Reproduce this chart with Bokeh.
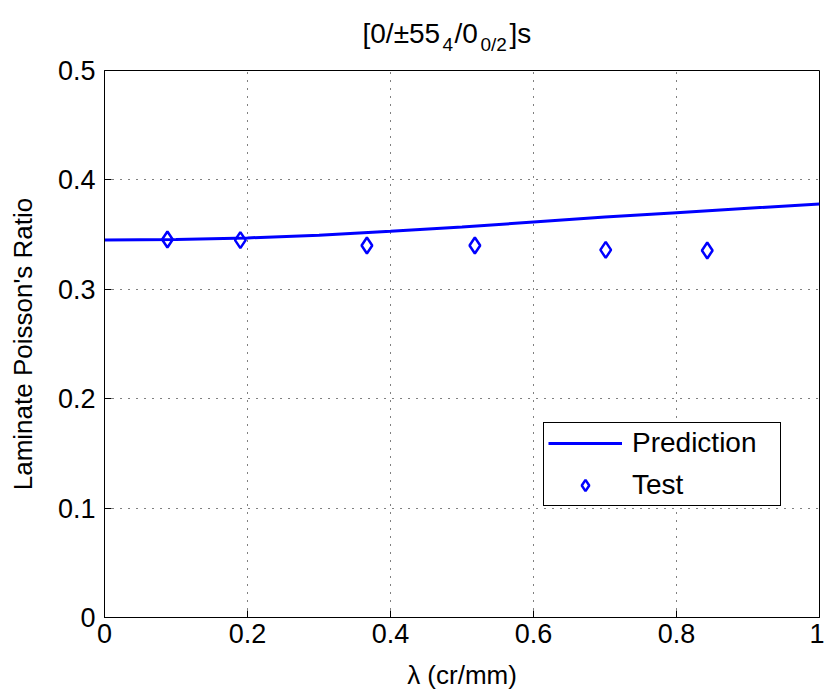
from bokeh.plotting import figure
from bokeh.layouts import column
from bokeh.models import Range1d, FixedTicker, CustomJSTickFormatter
from bokeh.core.properties import value
from bokeh.embed import file_html
from bokeh.resources import INLINE

# ---- data ----
pred_x = [0.0, 0.1, 0.2, 0.3, 0.4, 0.5, 0.6, 0.7, 0.8, 0.9, 1.0]
pred_y = [0.3450, 0.3455, 0.3470, 0.3495, 0.3530, 0.3570, 0.3615, 0.3660, 0.3700, 0.3740, 0.3780]
test_x = [0.088, 0.190, 0.367, 0.518, 0.701, 0.843]
test_y = [0.3455, 0.3450, 0.3400, 0.3400, 0.3360, 0.3355]
x_ticks = [0, 0.2, 0.4, 0.6, 0.8, 1]
y_ticks = [0, 0.1, 0.2, 0.3, 0.4, 0.5]
x_label = "λ (cr/mm)"
y_label = "Laminate Poisson's Ratio"
legend_labels = ["Prediction", "Test"]
# title "[0/±55_4/0_{0/2}]s" split into normal text and subscript pieces
title_main = ["[0/±55", "/0", "]s"]
title_sub = ["4", "0/2"]

FONT = "Liberation Sans"
BLUE = "#0000ff"
W = 824
TITLE_H = 55
BL, BR = 104, 5          # frame borders (the column aligns both frames)

# ---------------- title strip (page-pixel coordinate space) ----------------
t = figure(width=W, height=TITLE_H, output_backend="svg", toolbar_location=None,
           x_range=Range1d(BL, W - BR), y_range=Range1d(0, TITLE_H),
           x_axis_location=None, y_axis_location=None, title=None,
           min_border_left=BL, min_border_right=BR, min_border_top=0, min_border_bottom=0)
t.grid.visible = False
t.outline_line_color = None
t.background_fill_color = "white"
t.border_fill_color = "white"
t.text(x=[362, 454, 509], y=[22, 22, 22], text=title_main,
       text_font=value(FONT), text_font_size=value("28px"), text_color="black",
       text_baseline=value("alphabetic"), text_align=value("left"))
t.text(x=[442, 480], y=[11, 11], text=title_sub,
       text_font=value(FONT), text_font_size=value("19px"), text_color="black",
       text_baseline=value("alphabetic"), text_align=value("left"))

# ---------------- main plot ----------------
p = figure(width=W, height=698 - TITLE_H, output_backend="svg", toolbar_location=None,
           x_range=Range1d(0, 1), y_range=Range1d(0, 0.5),
           min_border_left=BL, min_border_right=BR, min_border_top=70 - TITLE_H,
           min_border_bottom=81)
p.background_fill_color = "white"
p.border_fill_color = "white"
p.outline_line_color = "black"
p.outline_line_alpha = 1
p.outline_line_width = 1

fmt = CustomJSTickFormatter(code="return tick.toString()")
for ax, ticks in ((p.xaxis[0], x_ticks), (p.yaxis[0], y_ticks)):
    ax.ticker = FixedTicker(ticks=ticks)
    ax.formatter = fmt
    ax.major_tick_in = 7
    ax.major_tick_out = 0
    ax.minor_tick_in = 0
    ax.minor_tick_out = 0
    ax.axis_line_color = "black"
    ax.major_tick_line_color = "black"
    ax.major_label_text_font = FONT
    ax.major_label_text_font_size = "27px"
    ax.major_label_text_color = "black"
    ax.axis_label_text_font = FONT
    ax.axis_label_text_font_size = "26px"
    ax.axis_label_text_font_style = "normal"
    ax.axis_label_text_color = "black"

p.xaxis.axis_label = x_label
p.yaxis.axis_label = y_label
p.xaxis.major_label_standoff = 6
p.xaxis.axis_label_standoff = 14
p.yaxis.major_label_standoff = 9
p.yaxis.axis_label_standoff = 17

for g in (p.xgrid[0], p.ygrid[0]):
    g.grid_line_color = "black"
    g.grid_line_dash = "1 7"
    g.grid_line_width = 1
    g.grid_line_alpha = 1
p.xgrid.ticker = FixedTicker(ticks=x_ticks[1:-1])
p.ygrid.ticker = FixedTicker(ticks=y_ticks[1:-1])

p.line(pred_x, pred_y, line_color=BLUE, line_width=3, legend_label=legend_labels[0])
p.scatter(test_x, test_y, marker="diamond", size=16, line_color=BLUE, line_width=2.5,
          fill_color=None, legend_label=legend_labels[1])

lg = p.legend[0]
lg.location = (439, 111)
lg.label_text_font = FONT
lg.label_text_font_size = "28px"
lg.label_text_color = "black"
lg.glyph_width = 74
lg.glyph_height = 28
lg.label_height = 28
lg.label_width = 144
lg.label_standoff = 10
lg.spacing = 10
lg.padding = 4
lg.margin = 0
lg.border_line_color = "black"
lg.border_line_width = 1
lg.border_line_alpha = 1
lg.background_fill_color = "white"
lg.background_fill_alpha = 1

layout = column(t, p, spacing=0)
open("out.html", "w").write(file_html(layout, INLINE))
